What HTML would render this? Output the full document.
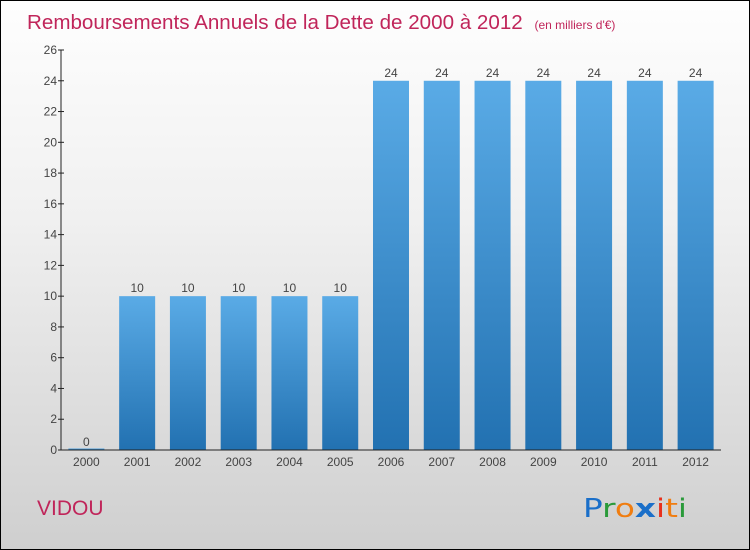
<!DOCTYPE html>
<html><head><meta charset="utf-8"><style>
body{margin:0;}
#c{width:750px;height:550px;position:relative;box-sizing:border-box;border:1px solid #000;background:linear-gradient(#fefefe,#f0f0f0 40%,#cfcfcf);font-family:"Liberation Sans",sans-serif;overflow:hidden}
</style></head><body>
<div id="c">
<svg id="s" width="748" height="548" style="position:absolute;left:0;top:0">
<defs><linearGradient id="g" x1="0" y1="0" x2="0" y2="1"><stop offset="0" stop-color="#5aabe6"/><stop offset="1" stop-color="#2271b1"/></linearGradient></defs>
<text x="26" y="28" font-size="20.6" fill="#c0255a">Remboursements Annuels de la Dette de 2000 à 2012 <tspan font-size="12" dx="6">(en milliers d'€)</tspan></text>
<text x="36" y="514" font-size="21" fill="#c0255a">VIDOU</text>
<text x="582" y="516" font-size="26" font-family="DejaVu Sans,sans-serif" textLength="104" lengthAdjust="spacingAndGlyphs"><tspan fill="#1a6fc9">P</tspan><tspan fill="#2a9a3a">r</tspan><tspan fill="#f07d10">o</tspan><tspan fill="#1a6fc9" font-weight="bold">x</tspan><tspan fill="#e8301c">i</tspan><tspan fill="#f07d10">t</tspan><tspan fill="#2a9a3a">i</tspan></text>
<g id="plot"></g>
</svg>
</div>
<script>
const categories=["2000","2001","2002","2003","2004","2005","2006","2007","2008","2009","2010","2011","2012"];
const values=[0,10,10,10,10,10,24,24,24,24,24,24,24];
const yTicks=[0,2,4,6,8,10,12,14,16,18,20,22,24,26];
const x0=60,x1=720,y0=449,y1=49,yMax=26;
const band=(x1-x0)/categories.length,bw=36;
const y=v=>y0-(v/yMax)*(y0-y1);
const xc=i=>x0+band*(i+0.5);
const ns="http://www.w3.org/2000/svg",p=document.getElementById('plot');
function mk(t,a,txt){const e=document.createElementNS(ns,t);for(const k in a)e.setAttribute(k,a[k]);if(txt!=null)e.textContent=txt;p.appendChild(e);return e;}
values.forEach((v,i)=>{
 const h=Math.max(y0-y(v),1.5);
 const r=mk('rect',{x:xc(i)-bw/2,y:y0-h,width:bw,height:h,fill:'url(#g)'});
 
 
 const t=mk('text',{x:xc(i),y:y(v)-4,'font-size':12,fill:'#444','text-anchor':'middle'},String(v));
 
 
 const c=mk('text',{x:xc(i),y:y0+16,'font-size':12,fill:'#444','text-anchor':'middle'},categories[i]);
 
 
});
yTicks.forEach(v=>{
 const l=mk('line',{x1:x0-3,x2:x0+3,y1:y(v),y2:y(v),stroke:'#222'});
 
 
 const t=mk('text',{x:x0-4,y:y(v)+4,'font-size':12,fill:'#444','text-anchor':'end'},String(v));
 
 
});
const ya=mk('line',{x1:x0,x2:x0,y1:y1,y2:y0,stroke:'#222'});


const xa=mk('line',{x1:x0,x2:x1,y1:y0,y2:y0,stroke:'#222'});


</script>
</body></html>
